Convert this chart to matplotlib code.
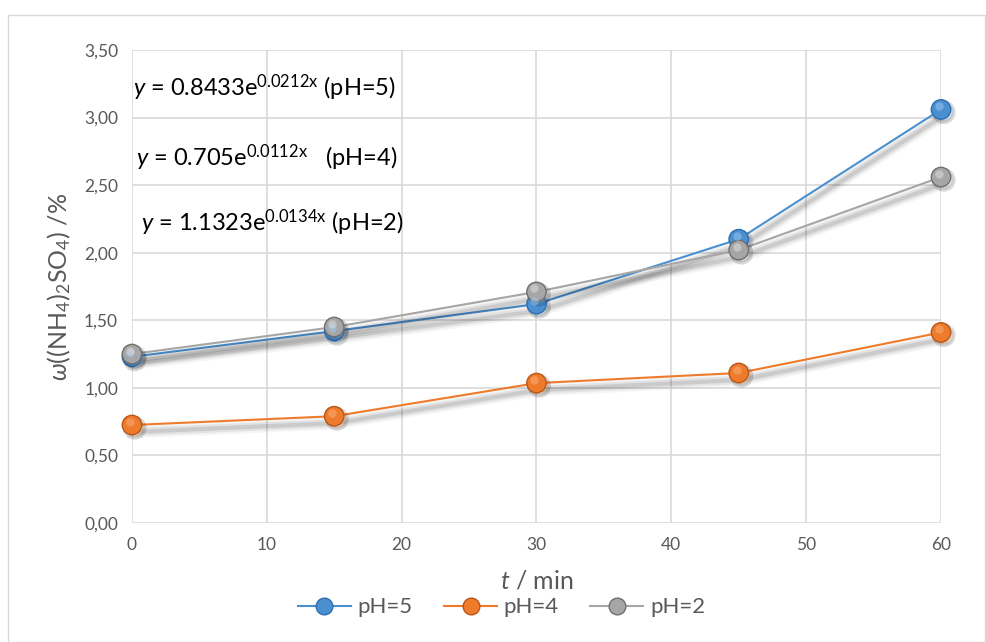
import matplotlib
matplotlib.use("Agg")
import matplotlib.pyplot as plt
import matplotlib.patheffects as pe
from matplotlib.patches import Rectangle
from matplotlib.lines import Line2D
from matplotlib.transforms import offset_copy

plt.rcParams['font.family'] = ['Lato', 'DejaVu Sans']
plt.rcParams['mathtext.fontset'] = 'custom'
plt.rcParams['mathtext.rm'] = 'Lato'
plt.rcParams['mathtext.it'] = 'Lato:italic'
plt.rcParams['mathtext.bf'] = 'Lato:bold'

t = [0, 15, 30, 45, 60]
ph5 = [1.23, 1.42, 1.62, 2.10, 3.06]
ph4 = [0.725, 0.79, 1.035, 1.11, 1.41]
ph2 = [1.25, 1.45, 1.71, 2.02, 2.56]
series = [("pH=5", ph5, "#4a90d0", "#2f6fb0", "#9cc8f0"),
          ("pH=4", ph4, "#ee7b2c", "#b8561a", "#f8b27a"),
          ("pH=2", ph2, "#a6a6a6", "#6f6f6f", "#e0e0e0")]
equations = [r"$y$ = 0.8433e$^{\mathrm{0.0212x}}$ (pH=5)",
             r"$y$ = 0.705e$^{\mathrm{0.0112x}}$   (pH=4)",
             r"$y$ = 1.1323e$^{\mathrm{0.0134x}}$ (pH=2)"]
eq_pos = [(0.1, 3.22), (0.3, 2.70), (0.7, 2.22)]

fig = plt.figure(figsize=(9.87, 6.42), dpi=100)
fig.patches.append(Rectangle((0.008, 0.0), 0.99, 0.976, transform=fig.transFigure,
                             fill=False, edgecolor="#d9d9d9", linewidth=1))
ax = fig.add_axes([0.1337, 0.1854, 0.8197, 0.7367])

ax.set_xlim(0, 60)
ax.set_ylim(0, 3.5)
ax.set_xticks(range(0, 61, 10))
ax.set_yticks([i * 0.5 for i in range(8)])
ax.set_yticklabels([f"{i*0.5:.2f}".replace(".", ",") for i in range(8)])
ax.grid(True, color="#d9d9d9", linewidth=1.2)
ax.set_axisbelow(True)
for s in ax.spines.values():
    s.set_visible(False)
ax.tick_params(length=0, colors="#595959", labelsize=12.5, pad=10)

shadow = [pe.Stroke(offset=(1, -5), linewidth=9, foreground="#000000", alpha=0.04),
          pe.Stroke(offset=(1, -5), linewidth=6, foreground="#000000", alpha=0.07),
          pe.Stroke(offset=(1, -5), linewidth=3, foreground="#000000", alpha=0.10),
          pe.Normal()]

handles = []
for name, vals, col, edge, hi in series:
    ax.plot(t, vals, color=col, linewidth=1.5, clip_on=False, path_effects=shadow, zorder=3)
for name, vals, col, edge, hi in series:
    ax.plot(t, vals, linestyle="none", marker="o", markersize=14,
            markerfacecolor=col, markeredgecolor=edge, markeredgewidth=1, clip_on=False,
            path_effects=[pe.Stroke(offset=(2, -2), linewidth=3, foreground="#000000", alpha=0.15),
                          pe.Normal()], zorder=4)
    ax.plot(t, vals, linestyle="none", marker="o", markersize=6, markerfacecolor=hi,
            markeredgewidth=0, alpha=0.5, clip_on=False, zorder=5,
            transform=offset_copy(ax.transData, fig=fig, x=-1.5, y=2.5, units="points"))
    handles.append(Line2D([], [], color=col, linewidth=1.5, marker="o", markersize=12,
                          markerfacecolor=col, markeredgecolor=edge, label=name))

for txt, (xv, yv) in zip(equations, eq_pos):
    ax.text(xv, yv, txt, fontsize=17, color="#000000", va="center", ha="left")

ax.set_ylabel(r"$\omega$((NH$_4$)$_2$SO$_4$) /%", fontsize=18, color="#595959", labelpad=8)
ax.set_xlabel(r"$t$ / min", fontsize=18, color="#595959", labelpad=12)

leg = fig.legend(handles=handles, loc="center", bbox_to_anchor=(0.508, 0.054), ncol=3,
                 frameon=False, fontsize=16, handlelength=2.4, columnspacing=1.4,
                 handletextpad=0.3)
for text in leg.get_texts():
    text.set_color("#595959")

fig.savefig("out.png", dpi=100)
